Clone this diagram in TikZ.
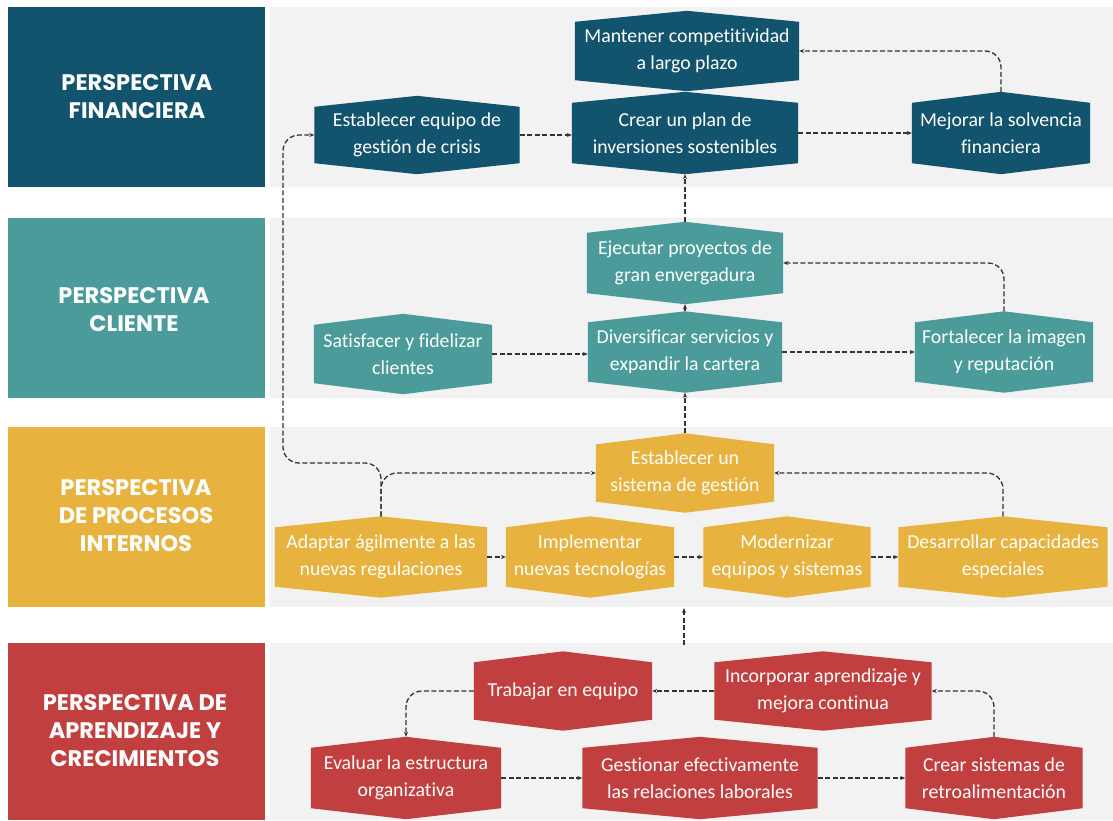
\documentclass[tikz,border=0pt]{standalone}
\usepackage{fontspec}
\setmainfont{Carlito}[Ligatures=NoCommon]
\newfontfamily\hdrfont{Poppins}
\usetikzlibrary{calc,arrows.meta}
\pgfdeclarelayer{bands}
\pgfdeclarelayer{shapes}
\pgfsetlayers{bands,shapes,main}
\definecolor{cfin}{HTML}{12536E}
\definecolor{ccli}{HTML}{4B9B9B}
\definecolor{cpro}{HTML}{E8B23E}
\definecolor{capr}{HTML}{C23F3F}
\definecolor{cband}{HTML}{F2F2F2}
\definecolor{cline}{HTML}{333333}
\tikzset{
  box/.style={inner sep=0pt, text=white, align=center, font=\fontsize{19.8}{27}\selectfont},
  hdr/.style={text=white, align=center, font=\hdrfont\bfseries\fontsize{22.5}{28}\selectfont},
  conn/.style={draw=cline, line width=1.3pt, dash pattern=on 5pt off 2.5pt, rounded corners=16pt, -{Stealth[length=5pt,width=4pt]}}
}
\newcommand\hexnode[7]{%
  \node[box, minimum width=#5, minimum height=#6] (#1) at (#3,#4) {#7};
  \coordinate (#1-t) at ($(#1.north)+(0,-11)$);
  \coordinate (#1-b) at ($(#1.south)+(0,11)$);
  \begin{pgfonlayer}{shapes}
    \fill[#2] (#1.north west) -- (#1-t) -- (#1.north east) -- (#1.south east) -- (#1-b) -- (#1.south west) -- cycle;
  \end{pgfonlayer}}
\begin{document}
\begin{tikzpicture}[x=1pt,y=-1pt]
\useasboundingbox (0,0) rectangle (1113,820);
\begin{pgfonlayer}{bands}
  \fill[white] (0,0) rectangle (1113,820);
  \fill[cband] (270,7) rectangle (1113,187);
  \fill[cband] (270,218) rectangle (1113,398);
  \fill[cband] (270,427) rectangle (1113,607);
  \fill[cband] (270,643) rectangle (1113,820);
  \fill[cfin] (8,7) rectangle (265,187);
  \fill[ccli] (8,218) rectangle (265,398);
  \fill[cpro] (8,427) rectangle (265,607);
  \fill[capr] (8,643) rectangle (265,820);
\end{pgfonlayer}
\node[hdr] (hfin) at (137,97) {PERSPECTIVA\\FINANCIERA};
\node[hdr] (hcli) at (134,310) {PERSPECTIVA\\CLIENTE};
\node[hdr] (hpro) at (136,516) {PERSPECTIVA\\DE PROCESOS\\INTERNOS};
\node[hdr] (hapr) at (135,731) {PERSPECTIVA DE\\APRENDIZAJE Y\\CRECIMIENTOS};

\hexnode{man}{cfin}{687}{51}{224}{58}{Mantener competitividad\\a largo plazo}
\hexnode{eq}{cfin}{417}{135}{205}{56}{Establecer equipo de\\gestión de crisis}
\hexnode{cp}{cfin}{685}{133}{226}{60}{Crear un plan de\\inversiones sostenibles}
\hexnode{mej}{cfin}{1001}{133}{178}{60}{Mejorar la solvencia\\financiera}

\hexnode{eje}{ccli}{685}{263}{196}{60}{Ejecutar proyectos de\\gran envergadura}
\hexnode{sat}{ccli}{403}{354}{178}{58}{Satisfacer y fidelizar\\clientes}
\hexnode{div}{ccli}{685}{352}{194}{59}{Diversificar servicios y\\expandir la cartera}
\hexnode{for}{ccli}{1004}{352}{178}{59}{Fortalecer la imagen\\y reputación}

\hexnode{est}{cpro}{685}{473}{178}{57}{Establecer un\\sistema de gestión}
\hexnode{ada}{cpro}{381}{557}{212}{59}{Adaptar ágilmente a las\\nuevas regulaciones}
\hexnode{imp}{cpro}{590}{557}{168}{59}{Implementar\\nuevas tecnologías}
\hexnode{mod}{cpro}{787}{557}{167}{59}{Modernizar\\equipos y sistemas}
\hexnode{des}{cpro}{1003}{557}{209}{59}{Desarrollar capacidades\\especiales}

\hexnode{tra}{capr}{563}{691}{178}{57}{Trabajar en equipo}
\hexnode{inc}{capr}{823}{691}{217}{57}{Incorporar aprendizaje y\\mejora continua}
\hexnode{eva}{capr}{406}{778}{190}{60}{Evaluar la estructura\\organizativa}
\hexnode{ges}{capr}{700}{778}{235}{60}{Gestionar efectivamente\\las relaciones laborales}
\hexnode{cs}{capr}{994}{778}{177}{60}{Crear sistemas de\\retroalimentación}

\coordinate (lb) at (283,463);
\coordinate (g1) at (684,645);
\coordinate (g2) at (684,608);

% financial
\draw[conn] (eq.east) -- (eq.east -| cp.west);
\draw[conn] (cp.east) -- (cp.east -| mej.west);
\draw[conn] (mej-t) |- (man.east);
% client
\draw[conn] (eje-t) -- (cp-b);
\draw[conn] (div-t) -- (eje-b);
\draw[conn] (sat.east) -- (sat.east -| div.west);
\draw[conn] (div.east) -- (div.east -| for.west);
\draw[conn] (for-t) |- (eje.east);
% processes
\draw[conn] (est-t) -- (div-b);
\draw[conn] (ada-t) |- (est.west);
\draw[conn] (ada-t) |- (lb) |- (eq.west);
\draw[conn] (ada.east) -- (ada.east -| imp.west);
\draw[conn] (imp.east) -- (imp.east -| mod.west);
\draw[conn] (mod.east) -- (mod.east -| des.west);
\draw[conn] (des-t) |- (est.east);
% learning
\draw[conn] (g1) -- (g2);
\draw[conn] (inc.west) -- (inc.west -| tra.east);
\draw[conn] (tra.west) -| (eva-t);
\draw[conn] (eva.east) -- (eva.east -| ges.west);
\draw[conn] (ges.east) -- (ges.east -| cs.west);
\draw[conn] (cs-t) |- (inc.east);
\end{tikzpicture}
\end{document}
